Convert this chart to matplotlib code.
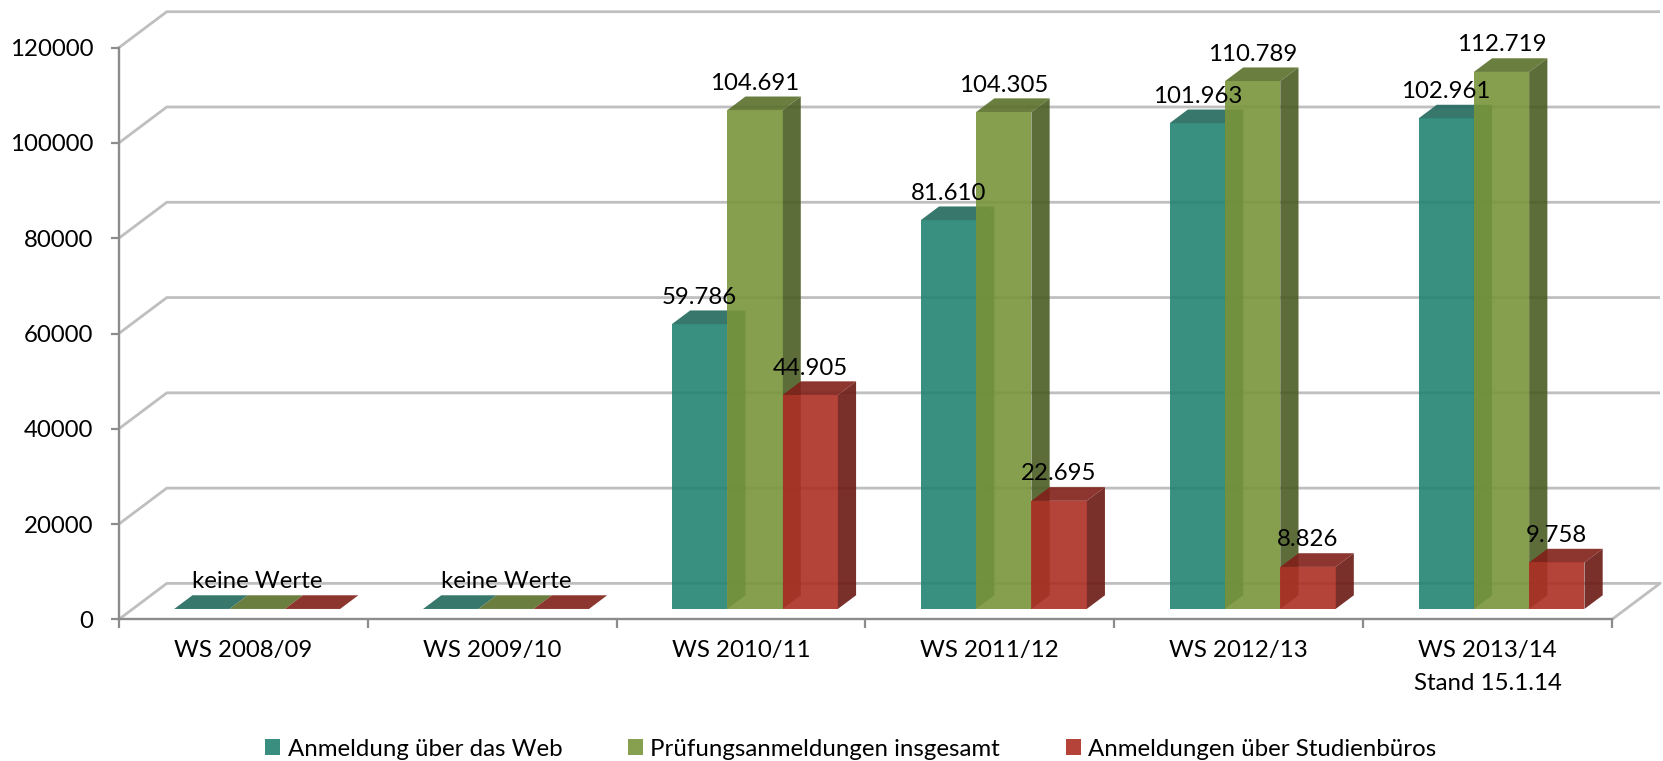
import matplotlib
matplotlib.use("Agg")
import matplotlib.pyplot as plt
from matplotlib.patches import Polygon, Patch

# ---- data -------------------------------------------------------------
semesters = ["WS 2008/09", "WS 2009/10", "WS 2010/11", "WS 2011/12",
             "WS 2012/13", "WS 2013/14\nStand 15.1.14"]
web_registrations = [0, 0, 59786, 81610, 101963, 102961]
total_registrations = [0, 0, 104691, 104305, 110789, 112719]
office_registrations = [0, 0, 44905, 22695, 8826, 9758]
series_names = ["Anmeldung über das Web",
                "Prüfungsanmeldungen insgesamt",
                "Anmeldungen über Studienbüros"]
y_ticks = [0, 20000, 40000, 60000, 80000, 100000, 120000]
missing_text = "keine Werte"

# ---- style --------------------------------------------------------------
FONT = ["Lato", "DejaVu Sans"]
FS = 17.3
plt.rcParams["font.family"] = FONT

# face colours per series: front, side, top, legend
colors = [
    dict(front="#238372", side="#1b5e53", top="#21685c", legend="#3a8e80"),
    dict(front="#79953b", side="#4b5d24", top="#5a702b", legend="#87a04f"),
    dict(front="#ac2e24", side="#6c1913", top="#812019", legend="#b5433a"),
]
ALPHA = 0.9
GRID = "#bfbfbf"
AXIS = "#8c8c8c"

W, H = 1663, 761
fig = plt.figure(figsize=(W / 100, H / 100), dpi=100)
fig.patch.set_facecolor("white")

# front plane of the plot area, in pixels
x0_px, x1_px = 118.8, 1612.0
y0_px, y1_px = 619.4, 47.7
ax = fig.add_axes([x0_px / W, 1 - y0_px / H,
                   (x1_px - x0_px) / W, (y0_px - y1_px) / H])
n = len(semesters)
ax.set_xlim(0, n)
ax.set_ylim(y_ticks[0], y_ticks[-1])
ax.patch.set_visible(False)

# depth of the floor in pixels, converted to data units
px_per_cat = (x1_px - x0_px) / n
px_per_val = (y0_px - y1_px) / (y_ticks[-1] - y_ticks[0])
DX = 48.0 / px_per_cat
DY = 36.0 / px_per_val


def proj(x, v, z):
    return (x + z * DX, v + z * DY)


# back wall and side wall gridlines
for v in y_ticks:
    xs, ys = zip(proj(0, v, 0), proj(0, v, 1), proj(n, v, 1))
    ax.plot(xs, ys, color=GRID, lw=2.0, clip_on=False, zorder=1,
            solid_capstyle="butt")
# right edge of the floor
xs, ys = zip(proj(n, 0, 0), proj(n, 0, 1))
ax.plot(xs, ys, color=GRID, lw=2.0, clip_on=False, zorder=1)

# axes lines
for side in ("top", "right"):
    ax.spines[side].set_visible(False)
for side in ("left", "bottom"):
    ax.spines[side].set_color(AXIS)
    ax.spines[side].set_linewidth(1.7)
    ax.spines[side].set_zorder(2)

ax.set_yticks(y_ticks)
ax.set_yticklabels([str(v) for v in y_ticks], fontsize=FS)
ax.tick_params(axis="y", direction="out", length=5.8, width=1.6,
               color=AXIS, pad=12.5)
ax.set_xticks(range(n + 1))
ax.set_xticklabels([])
ax.tick_params(axis="x", which="major", direction="out", length=6.5,
               width=1.6, color=AXIS)
ax.set_xticks([i + 0.5 for i in range(n)], minor=True)
ax.set_xticklabels(semesters, minor=True, fontsize=FS)
ax.tick_params(axis="x", which="minor", length=0, pad=15.0)
for lab in ax.get_xticklabels(minor=True):
    lab.set_linespacing(1.7)

# ---- 3D-looking columns -------------------------------------------------
series = [web_registrations, total_registrations, office_registrations]
bw = 1 / 4.5              # column width (gap width 150 %)
z0, z1 = 0.29, 0.67       # depth of the columns inside the floor
label_offset = 27         # pixels above the front top edge

zo = 3
for i in range(n):
    for j, vals in enumerate(series):
        v = vals[i]
        xl = i + 0.75 * bw + j * bw
        xr = xl + bw
        c = colors[j]
        faces = []
        if v > 0:
            faces.append(([proj(xr, 0, z0), proj(xr, 0, z1),
                           proj(xr, v, z1), proj(xr, v, z0)], c["side"]))
        faces.append(([proj(xl, v, z0), proj(xr, v, z0),
                       proj(xr, v, z1), proj(xl, v, z1)], c["top"]))
        if v > 0:
            faces.append(([proj(xl, 0, z0), proj(xr, 0, z0),
                           proj(xr, v, z0), proj(xl, v, z0)], c["front"]))
        for pts, col in faces:
            ax.add_patch(Polygon(pts, closed=True, facecolor=col,
                                 edgecolor="none", lw=0, alpha=ALPHA,
                                 clip_on=False, zorder=zo))
            zo += 0.01
        if v > 0:
            txt = f"{v:,}".replace(",", ".")
            ax.annotate(txt, xy=proj((xl + xr) / 2, v, z0),
                        xytext=(0, label_offset), textcoords="offset pixels",
                        ha="center", va="center", fontsize=FS,
                        color="black", zorder=20, annotation_clip=False)
    if all(vals[i] == 0 for vals in series):
        ax.annotate(missing_text, xy=proj(i + 0.5, 0, z0),
                    xytext=(0, label_offset), textcoords="offset pixels",
                    ha="center", va="center", fontsize=FS, color="black",
                    zorder=20, annotation_clip=False)

# ---- legend -------------------------------------------------------------
handles = [Patch(facecolor=c["legend"], edgecolor="none") for c in colors]
fig.legend(handles, series_names, loc="center",
           bbox_to_anchor=(851 / W, 1 - 749 / H), ncol=3, frameon=False,
           fontsize=FS, handlelength=0.62, handleheight=0.62,
           handletextpad=0.3, columnspacing=2.75, borderaxespad=0,
           borderpad=0)

fig.savefig("out.png", dpi=100)
